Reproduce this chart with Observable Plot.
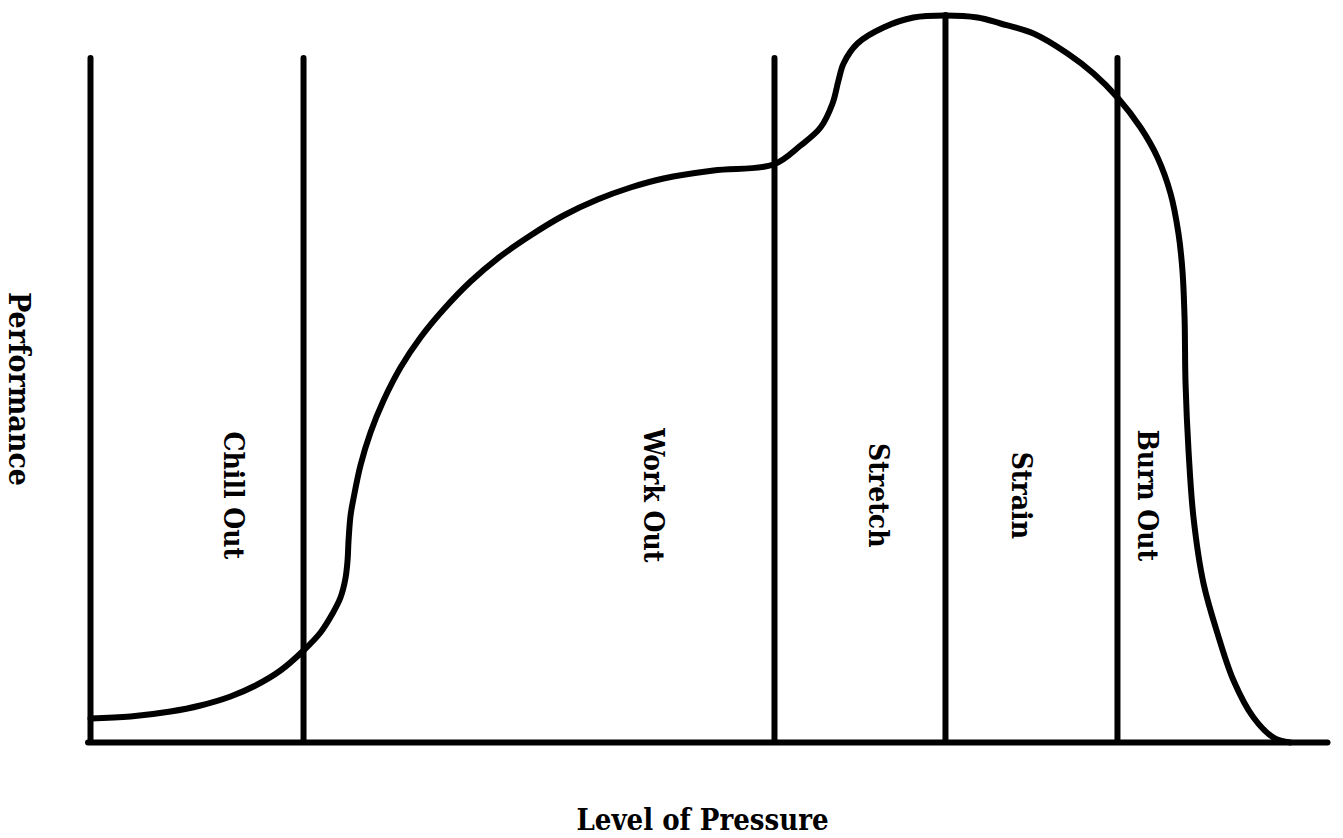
<!DOCTYPE html>
<html>
<head>
<meta charset="utf-8">
<script src="https://cdn.jsdelivr.net/npm/d3@7"></script>
<script src="https://cdn.jsdelivr.net/npm/@observablehq/plot@0.6"></script>
<style>
  html, body { margin: 0; padding: 0; background: #fff; }
  #chart svg { display: block; }
  #chart svg text { font-family: "DejaVu Serif", serif; font-stretch: condensed; }
</style>
</head>
<body>
<div id="chart"></div>
<script>
// Curve: level of pressure (0–100) vs performance (0–100)
const pressure = [0, 3.23, 6.45, 8.87, 11.29, 13.31, 15.32, 17.18, 18.55, 19.52, 20.16, 20.56, 20.73, 20.81, 20.97, 21.21, 21.77, 22.58, 23.63, 25.0, 26.61, 28.47, 30.65, 32.82, 35.48, 38.15, 40.89, 43.55, 46.21, 50.24, 55.08, 57.26, 58.87, 59.84, 60.32, 60.73, 61.85, 63.95, 66.37, 68.95, 71.53, 73.39, 76.05, 78.79, 80.89, 82.82, 84.68, 86.05, 87.1, 87.74, 88.06, 88.23, 88.31, 88.55, 88.95, 89.76, 90.89, 92.18, 93.79, 95.4, 96.77];
const performance = [3.3, 3.58, 4.26, 5.09, 6.33, 7.84, 9.9, 12.65, 15.13, 17.74, 19.94, 22.56, 25.03, 27.79, 31.22, 33.56, 38.1, 42.64, 47.04, 51.58, 55.71, 59.56, 63.41, 66.57, 69.74, 72.49, 74.69, 76.34, 77.58, 78.68, 79.5, 82.12, 84.59, 87.9, 91.06, 93.4, 96.15, 98.35, 99.72, 100, 99.72, 98.9, 97.52, 94.77, 92.02, 88.72, 84.59, 80.47, 75.52, 70.01, 64.92, 58.46, 49.38, 40.17, 30.95, 21.87, 14.99, 8.53, 3.44, 0.69, 0];

// Zone boundaries (vertical lines) and their heights
const boundaryX = [0, 17.18, 55.16, 68.95, 82.82];
const boundaryTop = [94.1, 94.1, 94.1, 100, 94.1];

// Zone labels
const zoneNames = ["Chill Out", "Work Out", "Stretch", "Strain", "Burn Out"];
const zoneLabelX = [11.45, 45.4, 63.5, 75.0, 85.2];
const zoneLabelY = [34, 34, 34, 34, 34];

const xTitle = "Level of Pressure";
const yTitle = "Performance";

const curveData = pressure.map((p, i) => ({p, v: performance[i]}));
const bounds = boundaryX.map((x, i) => ({x, top: boundaryTop[i]}));
const labels = zoneNames.map((name, i) => ({name, x: zoneLabelX[i], y: zoneLabelY[i]}));

const chart = Plot.plot({
  width: 1343,
  height: 838,
  marginLeft: 90,
  marginRight: 13,
  marginTop: 15,
  marginBottom: 96,
  x: {domain: [0, 100], axis: null},
  y: {domain: [0, 100], axis: null},
  style: {background: "#fff", color: "#000", overflow: "visible"},
  marks: [
    Plot.ruleY([0], {x1: -0.16, x2: 99.8, stroke: "#000", strokeWidth: 6, strokeLinecap: "round"}),
    Plot.ruleX(bounds, {x: "x", y1: 0, y2: "top", stroke: "#000", strokeWidth: 6, strokeLinecap: "round"}),
    Plot.line(curveData, {x: "p", y: "v", curve: "catmull-rom", stroke: "#000", strokeWidth: 6, strokeLinejoin: "round"}),
    Plot.text(labels, {x: "x", y: "y", text: "name", rotate: 90, fontSize: 28, fontWeight: "bold", fill: "#000"}),
    Plot.text([xTitle], {frameAnchor: "bottom", textAnchor: "middle", lineAnchor: "middle", dx: -8, dy: 78, text: d => d, fontSize: 29, fontWeight: "bold", fill: "#000"}),
    Plot.text([yTitle], {frameAnchor: "left", textAnchor: "middle", lineAnchor: "middle", dx: -72, dy: 10, text: d => d, rotate: 90, fontSize: 30, fontWeight: "bold", fill: "#000"})
  ]
});
document.getElementById("chart").appendChild(chart);
</script>
</body>
</html>
